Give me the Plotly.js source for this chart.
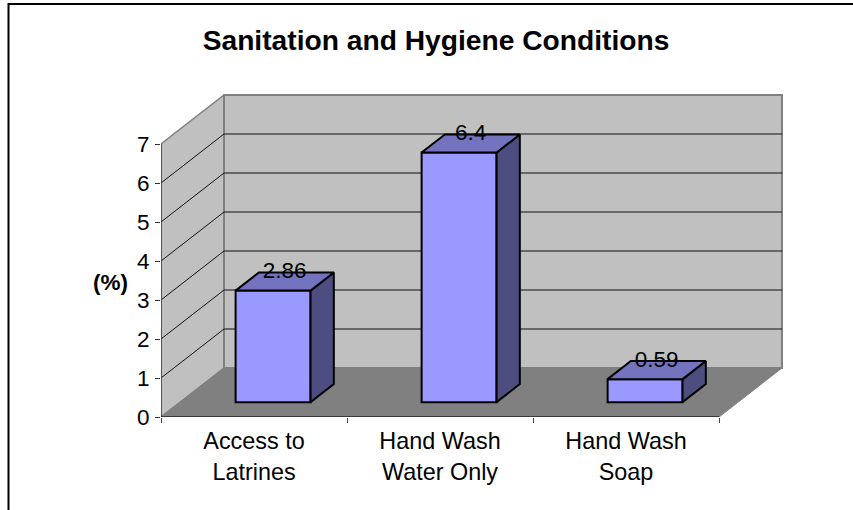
<!DOCTYPE html>
<html><head><meta charset="utf-8">
<script src="https://cdn.plot.ly/plotly-3.0.0.min.js"></script>
<style>html,body{margin:0;padding:0;background:#fff}</style>
</head><body><div id="c" style="width:853px;height:510px"></div>
<script>
const categories = ["Access to<br>Latrines", "Hand Wash<br>Water Only", "Hand Wash<br>Soap"];
const values = [2.86, 6.4, 0.59];
const labels = ["2.86", "6.4", "0.59"];
const yTicks = [0,1,2,3,4,5,6,7];

const W=853,H=510,mL=161,mR=70,mT=94,mB=93;
const uX=186, uY=39;
const depthX=63/uX, depthY=49/uY;
const n=categories.length, yMax=yTicks[yTicks.length-1];
const d0=0.303, d1=0.672, barW=0.403;
const P=(x,y,d)=>[x+d*depthX, y+d*depthY];
const poly=pts=>{let s=pts.map((p,i)=>(i?'L':'M')+p[0]+','+p[1]).join(' ');return s+' Z';};
const shapes=[];
const below=(pts,fill,lc,lw)=>shapes.push({type:'path',layer:'below',xref:'x',yref:'y',path:poly(pts),fillcolor:fill,line:{color:lc,width:lw}});
const seg=(a,b,c,w)=>shapes.push({type:'line',layer:'below',xref:'x',yref:'y',x0:a[0],y0:a[1],x1:b[0],y1:b[1],line:{color:c,width:w}});
// walls and floor
below([P(0,0,0),P(0,yMax,0),P(0,yMax,1),P(0,0,1)],'#C0C0C0','#808080',1.5);
below([P(0,0,1),P(0,yMax,1),P(n,yMax,1),P(n,0,1)],'#C0C0C0','#808080',2);
below([P(0,0,0),P(0,0,1),P(n,0,1),P(n,0,0)],'#808080','#808080',1);
yTicks.slice(1,-1).forEach(v=>{
  seg(P(0,v,0),P(0,v,1),'#111',1);
  seg(P(0,v,1),P(n,v,1),'#111',1);
});
seg(P(0,0,0),P(0,yMax,0),'#404040',1.5);
seg(P(0,0,0),P(n,0,0),'#222',1.5);
// page border
const px=x=>(x-mL)/(W-mL-mR), py=y=>1-(y-mT)/(H-mT-mB);
shapes.push({type:'line',xref:'paper',yref:'paper',x0:px(8.5),x1:px(853),y0:py(4),y1:py(4),line:{color:'#000',width:2}});
shapes.push({type:'line',xref:'paper',yref:'paper',x0:px(8.5),x1:px(8.5),y0:py(3),y1:py(510),line:{color:'#000',width:2}});

const traces=[];
const xs=values.map((_,i)=>i+0.5);
const outline={color:'#000',width:2};
values.forEach((v,i)=>{
  const L=xs[i]-barW/2,R=xs[i]+barW/2;
  const faces=[
    [[P(R,0,d0),P(R,v,d0),P(R,v,d1),P(R,0,d1),P(R,0,d0)],'#4D4D80'],
    [[P(L,v,d0),P(L,v,d1),P(R,v,d1),P(R,v,d0),P(L,v,d0)],'#7373BF']
  ];
  faces.forEach(f=>traces.push({type:'scatter',mode:'lines',x:f[0].map(p=>p[0]),y:f[0].map(p=>p[1]),
    fill:'toself',fillcolor:f[1],line:{color:'#000',width:2},hoverinfo:'skip',showlegend:false}));
});
// front faces: real bars, lifted off the floor by their depth
traces.unshift({type:'bar',x:xs.map(x=>P(x,0,d0)[0]),y:values,base:values.map(()=>P(0,0,d0)[1]),width:barW,
  marker:{color:'#9999FF',line:outline},showlegend:false,hoverinfo:'skip'});
traces.push({type:'scatter',mode:'text',x:values.map((v,i)=>P(xs[i],v,(d0+d1)/2)[0]),y:values.map((v,i)=>P(xs[i],v,d1)[1]),
  text:labels,textposition:'middle center',textfont:{family:'Liberation Sans',size:22.5,color:'#000'},cliponaxis:false,showlegend:false,hoverinfo:'skip'});

const layout={
  width:W,height:H,paper_bgcolor:'#fff',plot_bgcolor:'rgba(0,0,0,0)',showlegend:false,bargap:0,
  margin:{l:mL,r:mR,t:mT,b:mB,pad:0},
  font:{family:'Liberation Sans',color:'#000'},
  title:{text:'<b>Sanitation and Hygiene Conditions</b>',x:436/W,xanchor:'center',y:1-40/H,yanchor:'middle',font:{family:'Liberation Sans',size:28.2,color:'#000'}},
  xaxis:{range:[0,(W-mL-mR)/uX],tickmode:'array',tickvals:xs,ticktext:categories,ticks:'',showgrid:false,zeroline:false,showline:false,
    tickfont:{family:'Liberation Sans',size:23.4,color:'#000'},ticklabelstandoff:8,
    minor:{tickmode:'array',tickvals:[0,1,2,3],ticks:'outside',ticklen:5,tickcolor:'#444',tickwidth:1,showgrid:false}},
  yaxis:{range:[0,(H-mT-mB)/uY],tickmode:'array',tickvals:yTicks,ticks:'outside',ticklen:5,tickcolor:'#333',tickwidth:1,showgrid:false,zeroline:false,showline:false,
    tickfont:{family:'Liberation Sans',size:22.5,color:'#000'},ticklabelstandoff:1},
  shapes:shapes,
  annotations:[{xref:'paper',yref:'paper',x:px(110),y:py(282),xanchor:'center',yanchor:'middle',showarrow:false,text:'<b>(%)</b>',font:{family:'Liberation Sans',size:22.5,color:'#000'}}]
};
Plotly.newPlot('c',traces,layout,{displayModeBar:false,staticPlot:true});
</script></body></html>
